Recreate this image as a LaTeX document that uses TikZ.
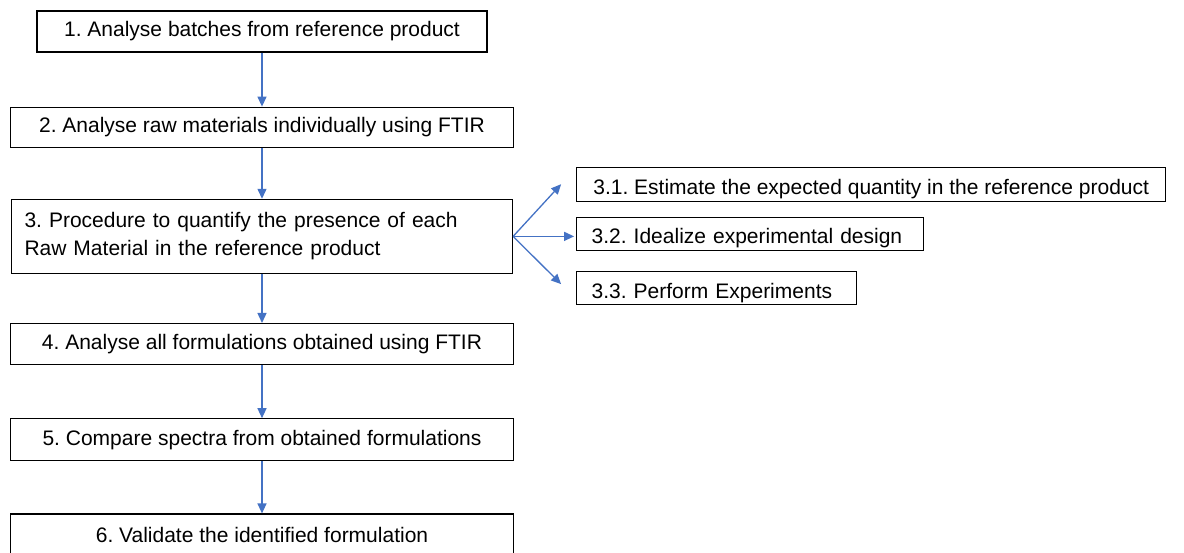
\documentclass[tikz,border=0pt]{standalone}
\usepackage{fontspec}
\setmainfont{Liberation Sans}
\frenchspacing
\usetikzlibrary{positioning,arrows.meta}
\definecolor{flowblue}{HTML}{4472C4}
\begin{document}
\begin{tikzpicture}[x=1pt,y=1pt,
        box/.style={draw,line width=1.2pt,inner sep=0pt,minimum width=503pt,minimum height=41pt,
            font=\fontsize{21}{28}\selectfont},
        sub/.style={box,minimum width=0pt,minimum height=33pt,text height=24pt,text depth=4pt,
            inner xsep=15pt,align=left},
        flow/.style={draw=flowblue,line width=1.3pt,-{Triangle[length=10pt,width=9pt,fill=flowblue]}}]
        \useasboundingbox (0,0) rectangle (1184,-553);
        \clip (0,0) rectangle (1184,-553);

        \node (ana) [box,minimum width=450pt] at (262,-31.5) {1. Analyse batches from reference product};
        \node (raw) [box,minimum height=40pt,below=54pt of ana] {2. Analyse raw materials individually using FTIR};
        \node (proc) [box,minimum width=501pt,minimum height=74pt,text width=475pt,inner xsep=13pt,align=left,
            below=51pt of raw] {3. Procedure to quantify the presence of each\\Raw Material in the reference product};
        \node (form) [box,below=49pt of proc] {4. Analyse all formulations obtained using FTIR};
        \node (comp) [box,minimum height=42pt,below=53pt of form] {5. Compare spectra from obtained formulations};
        \node (val) [box,below=52pt of comp] {6. Validate the identified formulation};

        % sub-steps of step 3
        \node (ide) [sub,text width=317pt,right=63pt of proc,yshift=2.5pt] {3.2. Idealize experimental design};
        \node (est) [sub,inner xsep=0pt,minimum width=589pt,minimum height=34pt,above=15pt of ide.north west,anchor=south west] {3.1. Estimate the expected quantity in the reference product};
        \node (per) [sub,text width=250pt,below=20pt of ide.south west,anchor=north west] {3.3. Perform Experiments};

        \draw[flow] (ana) -- (raw);
        \draw[flow] (raw) -- (proc);
        \draw[flow] (proc) -- (form);
        \draw[flow] (form) -- (comp);
        \draw[flow] (comp) -- (val);

        \draw[flow] (proc.east) -- ([xshift=-15pt]est.west);
        \draw[flow,shorten >=2pt] (proc.east) -- (proc.east -| ide.west);
        \draw[flow] (proc.east) -- ([xshift=-15pt,yshift=4pt]per.west);
    \end{tikzpicture}
\end{document}
